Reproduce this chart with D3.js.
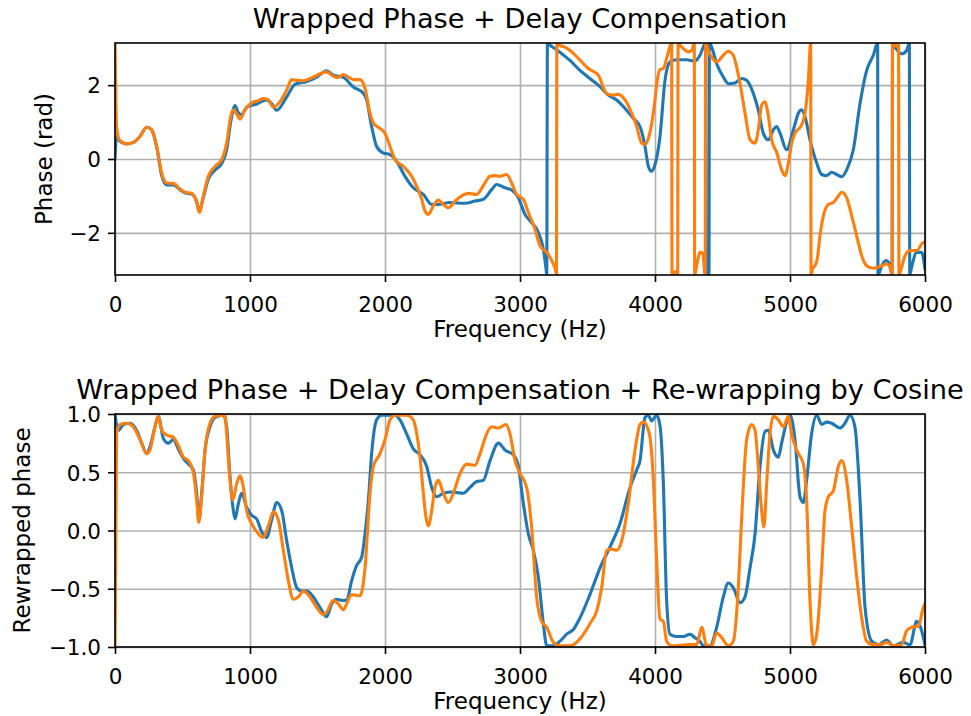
<!DOCTYPE html>
<html>
<head>
<meta charset="utf-8">
<script src="https://cdn.jsdelivr.net/npm/d3@7"></script>
<style>
  body { margin: 0; background: #fff; }
  text { font-family: "DejaVu Sans", sans-serif; fill: #000; }
</style>
</head>
<body>
<div id="chart"></div>
<script>
// ---- data ----
const freqTicks = [0, 1000, 2000, 3000, 4000, 5000, 6000];
const phaseTicks = [-2, 0, 2];
const rewrapTicks = [-1, -0.5, 0, 0.5, 1];

// wrapped phase + delay compensation, [Hz, rad]
const phaseBlue = [
  [0, 0.0], [12, 0.61], [32, 0.50], [86, 0.41], [136, 0.45], [185, 0.61], [235, 0.86], [272, 0.79],
  [309, 0.32], [346, -0.45], [383, -0.70], [432, -0.70], [481, -0.83], [519, -0.92], [568, -0.95],
  [605, -1.15], [625, -1.40], [654, -1.05], [691, -0.55], [741, -0.30], [790, -0.12], [827, 0.25],
  [857, 1.00], [889, 1.45], [914, 1.25], [938, 1.20], [975, 1.40], [1049, 1.49], [1123, 1.60],
  [1160, 1.50], [1198, 1.32], [1272, 1.68], [1333, 2.02], [1420, 2.10], [1494, 2.22], [1568, 2.39],
  [1617, 2.27], [1691, 2.21], [1765, 1.95], [1840, 1.78], [1864, 1.60], [1901, 0.88], [1938, 0.34],
  [1988, 0.16], [2037, 0.12], [2086, -0.06], [2148, -0.47], [2210, -0.78], [2284, -0.96], [2346, -1.23],
  [2395, -1.23], [2481, -1.18], [2593, -1.20], [2667, -1.14], [2728, -1.09], [2790, -0.83], [2827, -0.69],
  [2889, -0.78], [2938, -0.84], [2988, -1.05], [3037, -1.50], [3086, -1.72], [3136, -1.99], [3173, -2.44],
  [3193, -2.98], [3198, -3.14], [3203, 3.14], [3222, 3.08], [3259, 2.99], [3309, 2.85], [3370, 2.67],
  [3444, 2.40], [3518, 2.18], [3593, 1.96], [3654, 1.73], [3716, 1.60], [3778, 1.37], [3839, 1.10],
  [3889, 0.88], [3926, 0.34], [3951, -0.20], [3975, -0.33], [4000, -0.15], [4037, 0.61], [4074, 2.13],
  [4111, 2.63], [4160, 2.69], [4235, 2.69], [4296, 2.65], [4333, 2.81], [4375, 3.14], [4378, -3.14],
  [4390, -2.98], [4400, -3.14], [4403, 3.14], [4420, 3.03], [4457, 2.58], [4506, 2.22], [4543, 2.04],
  [4593, 2.06], [4642, 2.18], [4679, 2.13], [4728, 1.78], [4765, 1.33], [4802, 0.70], [4840, 0.52],
  [4877, 0.79], [4901, 0.88], [4926, 0.70], [4975, 0.25], [5025, 0.79], [5062, 1.24], [5086, 1.33],
  [5111, 1.15], [5148, 0.52], [5198, -0.11], [5235, -0.42], [5272, -0.45], [5309, -0.36], [5346, -0.42],
  [5383, -0.48], [5420, -0.29], [5469, 0.25], [5519, 1.51], [5568, 2.40], [5617, 2.81], [5649, 3.14],
  [5652, -3.14], [5679, -2.89], [5711, -2.75], [5736, -2.84], [5756, -3.14], [5759, 3.14], [5778, 3.03],
  [5827, 2.85], [5864, 2.94], [5884, 3.14], [5887, -3.14], [5901, -2.93], [5938, -2.53], [5975, -2.53],
  [6000, -2.98]
];

const phaseOrange = [
  [0, 3.14], [12, 0.88], [32, 0.52], [86, 0.41], [136, 0.45], [185, 0.61], [235, 0.86], [272, 0.79],
  [309, 0.34], [346, -0.38], [383, -0.65], [432, -0.66], [481, -0.81], [519, -0.90], [568, -0.93],
  [605, -1.18], [625, -1.45], [654, -1.00], [691, -0.47], [741, -0.20], [790, -0.02], [827, 0.43],
  [857, 1.15], [877, 1.33], [906, 1.19], [926, 1.08], [963, 1.33], [1012, 1.52], [1062, 1.58],
  [1099, 1.64], [1136, 1.60], [1173, 1.40], [1222, 1.55], [1272, 1.87], [1309, 2.15], [1346, 2.13],
  [1395, 2.12], [1469, 2.22], [1518, 2.31], [1568, 2.36], [1617, 2.24], [1654, 2.21], [1691, 2.29],
  [1728, 2.22], [1765, 2.15], [1815, 2.15], [1852, 1.91], [1889, 1.24], [1914, 0.97], [1963, 0.83],
  [2000, 0.70], [2037, 0.34], [2074, -0.02], [2136, -0.20], [2198, -0.47], [2235, -0.74], [2272, -1.09],
  [2296, -1.41], [2321, -1.50], [2358, -1.27], [2395, -1.11], [2432, -1.23], [2469, -1.32], [2519, -1.14],
  [2568, -1.00], [2617, -0.93], [2679, -0.96], [2728, -0.72], [2778, -0.47], [2815, -0.45], [2852, -0.47],
  [2901, -0.42], [2938, -0.65], [2975, -0.96], [3025, -1.09], [3062, -1.45], [3111, -1.90], [3148, -2.35],
  [3198, -2.53], [3235, -2.75], [3267, -3.07], [3270, -3.14], [3273, 3.14], [3296, 3.07], [3333, 3.03],
  [3383, 2.90], [3444, 2.68], [3506, 2.45], [3580, 2.27], [3642, 1.77], [3691, 1.73], [3728, 1.75],
  [3778, 1.60], [3827, 1.24], [3864, 0.88], [3901, 0.43], [3926, 0.40], [3950, 0.55], [3975, 0.95],
  [4000, 1.60], [4012, 2.00], [4037, 2.42], [4062, 2.45], [4086, 2.72], [4123, 3.14], [4126, -3.14],
  [4148, -3.05], [4168, -3.14], [4171, 3.14], [4185, 3.08], [4210, 2.99], [4247, 2.90], [4272, 2.94],
  [4291, 3.14], [4294, -3.14], [4313, -2.80], [4333, -2.53], [4353, -2.55], [4372, -3.14], [4375, 3.14],
  [4395, 2.94], [4420, 2.76], [4457, 2.63], [4506, 2.81], [4543, 2.92], [4580, 2.81], [4605, 2.49],
  [4630, 2.04], [4667, 1.24], [4704, 0.52], [4741, 0.43], [4765, 0.79], [4790, 1.46], [4815, 1.55],
  [4840, 1.15], [4864, 0.52], [4901, 0.18], [4938, -0.29], [4963, -0.45], [4988, -0.11], [5012, 0.43],
  [5037, 0.70], [5086, 0.92], [5111, 1.24], [5136, 2.13], [5153, 3.14], [5156, -3.14], [5168, -2.96],
  [5185, -2.89], [5202, -2.71], [5222, -2.08], [5247, -1.54], [5284, -1.23], [5321, -1.18], [5358, -1.00],
  [5383, -0.90], [5420, -1.05], [5457, -1.54], [5494, -2.08], [5531, -2.62], [5568, -2.89], [5617, -2.96],
  [5667, -2.91], [5716, -2.84], [5746, -2.98], [5757, -3.14], [5760, 3.14], [5783, 3.06], [5804, 3.14],
  [5807, -3.14], [5827, -2.93], [5852, -2.62], [5889, -2.48], [5938, -2.48], [5988, -2.26], [6000, -2.26]
];

// re-wrapped by cosine, [Hz, value]
const rewrapBlue = [
  [0, 1.0], [25, 0.86], [62, 0.91], [111, 0.92], [160, 0.86], [198, 0.75], [235, 0.66], [259, 0.72],
  [296, 0.89], [321, 0.98], [358, 0.79], [395, 0.75], [432, 0.78], [469, 0.70], [506, 0.62], [543, 0.57],
  [580, 0.52], [605, 0.32], [622, 0.09], [642, 0.32], [667, 0.69], [704, 0.89], [741, 0.97], [802, 0.99],
  [827, 0.89], [852, 0.46], [877, 0.17], [889, 0.10], [914, 0.23], [938, 0.32], [975, 0.20], [1012, 0.13],
  [1049, 0.10], [1086, -0.01], [1123, -0.06], [1160, 0.09], [1198, 0.24], [1235, 0.17], [1272, -0.09],
  [1309, -0.32], [1346, -0.49], [1383, -0.52], [1420, -0.52], [1469, -0.57], [1518, -0.66], [1568, -0.74],
  [1605, -0.63], [1642, -0.59], [1679, -0.60], [1716, -0.60], [1753, -0.43], [1790, -0.30], [1827, -0.23],
  [1852, -0.03], [1877, 0.26], [1901, 0.66], [1938, 0.95], [1975, 0.99], [2037, 0.99], [2074, 0.99],
  [2111, 0.95], [2160, 0.83], [2210, 0.70], [2259, 0.65], [2309, 0.55], [2346, 0.37], [2383, 0.29],
  [2432, 0.32], [2494, 0.33], [2580, 0.32], [2630, 0.37], [2679, 0.42], [2728, 0.43], [2778, 0.60],
  [2840, 0.75], [2889, 0.69], [2951, 0.65], [2988, 0.55], [3025, 0.23], [3062, -0.03], [3099, -0.17],
  [3136, -0.40], [3173, -0.80], [3198, -0.99], [3247, -0.99], [3296, -0.95], [3346, -0.89], [3395, -0.85],
  [3444, -0.75], [3518, -0.55], [3593, -0.32], [3667, -0.14], [3741, 0.06], [3815, 0.37], [3864, 0.52],
  [3889, 0.60], [3926, 0.97], [3951, 0.99], [3975, 0.94], [4012, 0.99], [4037, 0.90], [4062, 0.40],
  [4086, -0.60], [4111, -0.89], [4160, -0.91], [4210, -0.91], [4259, -0.89], [4296, -0.92], [4333, -0.95],
  [4358, -0.99], [4407, -0.99], [4457, -0.83], [4506, -0.57], [4543, -0.45], [4580, -0.49], [4630, -0.62],
  [4667, -0.57], [4704, -0.32], [4741, -0.03], [4778, 0.55], [4815, 0.85], [4840, 0.86], [4877, 0.69],
  [4914, 0.63], [4938, 0.75], [4975, 0.93], [5000, 0.99], [5037, 0.78], [5074, 0.29], [5099, 0.24],
  [5123, 0.43], [5160, 0.83], [5198, 0.99], [5235, 0.91], [5272, 0.93], [5309, 0.92], [5370, 0.88],
  [5407, 0.92], [5444, 0.99], [5481, 0.89], [5519, 0.26], [5556, -0.66], [5605, -0.95], [5654, -0.98],
  [5716, -0.94], [5765, -0.99], [5839, -0.96], [5889, -0.98], [5938, -0.78], [5975, -0.86], [6000, -0.98]
];

const rewrapOrange = [
  [0, -1.0], [12, 0.83], [37, 0.91], [86, 0.92], [136, 0.89], [185, 0.78], [235, 0.66], [259, 0.69],
  [296, 0.89], [321, 0.98], [346, 0.86], [383, 0.82], [432, 0.80], [469, 0.73], [506, 0.63], [543, 0.60],
  [580, 0.50], [605, 0.26], [620, 0.07], [642, 0.29], [667, 0.69], [704, 0.92], [741, 0.98], [815, 0.99],
  [827, 0.83], [852, 0.43], [872, 0.26], [901, 0.40], [926, 0.47], [951, 0.37], [975, 0.17], [1012, 0.06],
  [1049, -0.01], [1094, -0.06], [1136, 0.04], [1173, 0.16], [1210, 0.09], [1247, -0.17], [1284, -0.43],
  [1321, -0.59], [1358, -0.57], [1395, -0.52], [1444, -0.57], [1494, -0.66], [1543, -0.72], [1568, -0.70],
  [1617, -0.60], [1654, -0.63], [1691, -0.68], [1716, -0.63], [1753, -0.55], [1815, -0.56], [1852, -0.32],
  [1889, 0.32], [1914, 0.55], [1963, 0.66], [2000, 0.78], [2037, 0.95], [2074, 0.99], [2160, 0.99],
  [2210, 0.95], [2235, 0.83], [2259, 0.63], [2284, 0.32], [2304, 0.11], [2321, 0.04], [2346, 0.17],
  [2370, 0.37], [2395, 0.43], [2432, 0.32], [2469, 0.24], [2506, 0.32], [2556, 0.49], [2605, 0.57],
  [2667, 0.56], [2704, 0.66], [2753, 0.83], [2790, 0.89], [2840, 0.88], [2896, 0.91], [2926, 0.83],
  [2963, 0.60], [3000, 0.49], [3049, 0.37], [3086, 0.03], [3123, -0.57], [3160, -0.78], [3198, -0.83],
  [3247, -0.96], [3296, -0.99], [3370, -0.99], [3444, -0.93], [3518, -0.80], [3568, -0.69], [3605, -0.49],
  [3642, -0.17], [3679, -0.16], [3716, -0.17], [3753, -0.09], [3802, 0.23], [3852, 0.69], [3889, 0.91],
  [3914, 0.93], [3951, 0.86], [3963, 0.80], [3988, 0.43], [4012, -0.25], [4037, -0.76], [4062, -0.78],
  [4086, -0.95], [4123, -0.99], [4259, -0.98], [4309, -0.98], [4346, -0.83], [4383, -0.99], [4420, -0.99],
  [4457, -0.88], [4494, -0.92], [4543, -0.99], [4580, -0.95], [4617, -0.49], [4642, 0.11], [4679, 0.78],
  [4716, 0.91], [4741, 0.86], [4765, 0.55], [4790, 0.17], [4807, 0.03], [4827, 0.40], [4852, 0.83],
  [4877, 0.98], [4914, 0.95], [4951, 0.89], [4988, 0.98], [5012, 0.83], [5049, 0.69], [5099, 0.57],
  [5123, 0.26], [5148, -0.60], [5173, -0.98], [5198, -0.89], [5235, -0.32], [5259, 0.17], [5284, 0.29],
  [5321, 0.34], [5358, 0.55], [5383, 0.60], [5420, 0.43], [5457, 0.03], [5494, -0.40], [5531, -0.75],
  [5568, -0.95], [5617, -0.98], [5667, -0.98], [5716, -0.96], [5765, -0.99], [5827, -0.98], [5864, -0.86],
  [5901, -0.83], [5951, -0.82], [5988, -0.66], [6000, -0.63]
];

const BLUE = "#1f77b4", ORANGE = "#ff7f0e";

const svg = d3.select("#chart")
  .append("svg")
    .attr("width", 971)
    .attr("height", 716)
    .attr("viewBox", [0, 0, 971, 716]);

function drawPanel(opts) {
  const left = 115, right = 925;
  const x = d3.scaleLinear().domain([0, 6000]).range([left, right]);
  const y = d3.scaleLinear().domain(opts.yDomain).range([opts.bottom, opts.top]);
  const h = opts.bottom - opts.top;

  const g = svg.append("g");

  // clip to the axes box
  g.append("clipPath").attr("id", opts.id)
    .append("rect")
      .attr("x", left).attr("y", opts.top)
      .attr("width", right - left).attr("height", h);

  // grid
  g.append("g")
    .attr("transform", `translate(0,${opts.bottom})`)
    .call(d3.axisBottom(x).tickValues(freqTicks).tickSize(-h).tickFormat(""))
    .call(s => s.select(".domain").remove())
    .call(s => s.selectAll("line").attr("stroke", "#b0b0b0").attr("stroke-width", 1.6));
  g.append("g")
    .attr("transform", `translate(${left},0)`)
    .call(d3.axisLeft(y).tickValues(opts.yTicks).tickSize(-(right - left)).tickFormat(""))
    .call(s => s.select(".domain").remove())
    .call(s => s.selectAll("line").attr("stroke", "#b0b0b0").attr("stroke-width", 1.6));

  // curves
  const line = d3.line()
    .x(d => x(d[0]))
    .y(d => y(d[1]))
    .curve(d3.curveMonotoneX);

  const lines = g.append("g").attr("clip-path", `url(#${opts.id})`);
  opts.series.forEach(s => {
    lines.append("path")
      .datum(s.values)
      .attr("fill", "none")
      .attr("stroke", s.color)
      .attr("stroke-width", 3.1)
      .attr("stroke-linejoin", "round")
      .attr("stroke-linecap", "square")
      .attr("d", line);
  });

  // frame
  g.append("rect")
    .attr("x", left).attr("y", opts.top)
    .attr("width", right - left).attr("height", h)
    .attr("fill", "none").attr("stroke", "#000").attr("stroke-width", 1.6);

  // x axis
  g.append("g")
    .attr("transform", `translate(0,${opts.bottom})`)
    .call(d3.axisBottom(x).tickValues(freqTicks).tickSize(7).tickSizeOuter(0).tickFormat(d3.format("d")))
    .call(s => s.select(".domain").remove())
    .call(s => s.selectAll("line").attr("stroke", "#000").attr("stroke-width", 1.6))
    .call(s => s.selectAll("text")
      .attr("y", 37).attr("dy", null)
      .attr("fill", "#000")
      .style("font-size", "21.5px")
      .style("font-family", "DejaVu Sans"));

  // y axis
  g.append("g")
    .attr("transform", `translate(${left},0)`)
    .call(d3.axisLeft(y).tickValues(opts.yTicks).tickSize(7).tickSizeOuter(0).tickFormat(opts.yFormat))
    .call(s => s.select(".domain").remove())
    .call(s => s.selectAll("line").attr("stroke", "#000").attr("stroke-width", 1.6))
    .call(s => s.selectAll("text")
      .attr("x", -14).attr("dy", "0.36em")
      .attr("fill", "#000")
      .style("font-size", "21.5px")
      .style("font-family", "DejaVu Sans"));

  // title and labels
  g.append("text")
    .attr("x", (left + right) / 2)
    .attr("y", opts.top - 15)
    .attr("text-anchor", "middle")
    .style("font-size", "27.2px")
    .text(opts.title);

  g.append("text")
    .attr("x", (left + right) / 2)
    .attr("y", opts.bottom + 62)
    .attr("text-anchor", "middle")
    .style("font-size", "23px")
    .text("Frequency (Hz)");

  g.append("text")
    .attr("transform", `translate(${opts.ylabelX},${(opts.top + opts.bottom) / 2}) rotate(-90)`)
    .attr("text-anchor", "middle")
    .style("font-size", "23px")
    .text(opts.ylabel);
}

drawPanel({
  id: "clipTop",
  top: 43, bottom: 275,
  yDomain: [-Math.PI, Math.PI],
  yTicks: phaseTicks,
  yFormat: d3.format("d"),
  title: "Wrapped Phase + Delay Compensation",
  ylabel: "Phase (rad)",
  ylabelX: 52,
  series: [
    { color: BLUE, values: phaseBlue },
    { color: ORANGE, values: phaseOrange }
  ]
});

drawPanel({
  id: "clipBottom",
  top: 414, bottom: 647,
  yDomain: [-1, 1],
  yTicks: rewrapTicks,
  yFormat: d3.format(".1f"),
  title: "Wrapped Phase + Delay Compensation + Re-wrapping by Cosine",
  ylabel: "Rewrapped phase",
  ylabelX: 30,
  series: [
    { color: BLUE, values: rewrapBlue },
    { color: ORANGE, values: rewrapOrange }
  ]
});
</script>
</body>
</html>
